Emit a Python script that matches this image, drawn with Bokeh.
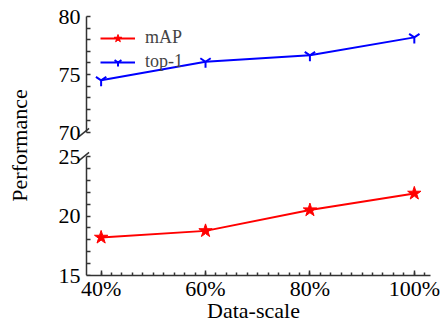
import math
from bokeh.plotting import figure
from bokeh.layouts import row, column
from bokeh.models import Range1d, FixedTicker, Legend, LegendItem, Label, LinearAxis
from bokeh.embed import file_html
from bokeh.resources import INLINE

# ---- data ----
scales = [40, 60, 80, 100]
scale_labels = ["40%", "60%", "80%", "100%"]
map_values = [18.2, 18.75, 20.5, 21.9]
top1_values = [74.5, 76.1, 76.65, 78.2]
x_minor = list(range(40, 104, 2))
upper_ticks = [70, 75, 80]
upper_minor = list(range(70, 81))
lower_ticks = [15, 20, 25]
lower_minor = list(range(15, 26))

FONT = "Liberation Serif"
AX = "#333333"
RED = "#ff0000"
BLUE = "#0000ff"

# x extent of the axes (data units) and pixel geometry
X0, X1 = 37.2, 103.1
AXIS_W = 344                      # px between y axis and right end of x axis
PXX = AXIS_W / (X1 - X0)
EXT = 10                          # extra frame room left of the y axis (for break marks)
XL = X0 - EXT / PXX
LEFT, RIGHT = 46, 12
W = LEFT + AXIS_W + EXT + RIGHT

PXY_T = 11.6                      # px per unit, upper panel
PXY_B = 11.9                      # px per unit, lower panel


def style_lines(ax, tin, tmin):
    ax.axis_line_color = AX
    ax.axis_line_width = 1.5
    ax.major_tick_line_color = AX
    ax.minor_tick_line_color = AX
    ax.major_tick_line_width = 1.5
    ax.minor_tick_line_width = 1.5
    ax.major_tick_in = tin
    ax.major_tick_out = 0
    ax.minor_tick_in = tmin
    ax.minor_tick_out = 0


def style_text(ax):
    ax.major_label_text_font = FONT
    ax.major_label_text_font_size = "22px"
    ax.major_label_text_color = "black"
    ax.axis_label_text_font = FONT
    ax.axis_label_text_font_size = "22px"
    ax.axis_label_text_font_style = "normal"
    ax.axis_label_text_color = "black"


def base(h, min_top, min_bottom, yr, xaxis):
    p = figure(width=W, height=h, min_border_left=LEFT, min_border_right=RIGHT,
               min_border_top=min_top, min_border_bottom=min_bottom,
               x_range=Range1d(XL, X1), y_range=Range1d(*yr),
               x_axis_location="below" if xaxis else None,
               output_backend="svg", toolbar_location=None)
    p.outline_line_color = None
    p.grid.visible = False
    p.background_fill_color = "white"
    p.border_fill_color = "white"
    return p


def y_axes(p, ticks, minor):
    # tick labels only, at the frame edge
    lab_ax = p.yaxis[0]
    lab_ax.ticker = FixedTicker(ticks=ticks, minor_ticks=[])
    lab_ax.axis_line_color = None
    lab_ax.major_tick_line_color = None
    lab_ax.minor_tick_line_color = None
    lab_ax.major_tick_out = 0
    lab_ax.major_tick_in = 0
    lab_ax.minor_tick_out = 0
    lab_ax.minor_tick_in = 0
    lab_ax.major_label_standoff = -4
    style_text(lab_ax)
    # axis line and ticks, placed at x = X0
    line_ax = LinearAxis(ticker=FixedTicker(ticks=[], minor_ticks=minor),
                         fixed_location=X0, bounds=(ticks[0], ticks[-1]))
    style_lines(line_ax, 4, 4)
    p.add_layout(line_ax, "left")


def break_mark(p, y):
    p.scatter([X0 - 2.5 / PXX], [y], marker="dash", size=13, angle=0.68,
              line_color=AX, line_width=1.5)


# ---- upper panel (top-1) ----
TOP_EXT = 13
top = base(144, 16 - TOP_EXT, 6,
           (upper_ticks[0] - 6 / PXY_T, upper_ticks[-1] + TOP_EXT / PXY_T), False)
y_axes(top, upper_ticks, upper_minor)

l_top = top.line(scales, top1_values, line_color=BLUE, line_width=2)
s_top = top.scatter(scales, top1_values, marker="y", size=12, line_color=BLUE, line_width=2)
# mAP repeated here only so the legend can show its glyph (values lie outside this panel's range)
l_map_leg = top.line(scales, map_values, line_color=RED, line_width=2)
s_map_leg = top.scatter(scales, map_values, marker="star", size=14, fill_color=RED, line_color=RED)
break_mark(top, upper_ticks[0])

leg = Legend(items=[LegendItem(label="mAP", renderers=[l_map_leg, s_map_leg]),
                    LegendItem(label="top-1", renderers=[l_top, s_top])],
             location="top_left", margin=24, padding=12, spacing=3,
             glyph_width=35, glyph_height=20, label_height=20, label_standoff=10,
             label_text_font=FONT, label_text_font_size="18px",
             border_line_color=None, background_fill_alpha=0)
top.add_layout(leg)

# ---- lower panel (mAP) ----
bot = base(181, 6, 50, (lower_ticks[0], lower_ticks[-1] + 6 / PXY_B), True)
y_axes(bot, lower_ticks, lower_minor)

xa = bot.xaxis[0]
xa.ticker = FixedTicker(ticks=scales, minor_ticks=x_minor)
style_lines(xa, 5, 3)
style_text(xa)
xa.bounds = (X0, X1)
xa.major_label_overrides = dict(zip(scales, scale_labels))
xa.major_label_standoff = 0
xa.axis_label = "Data-scale"
xa.axis_label_standoff = -6

bot.line(scales, map_values, line_color=RED, line_width=2)
bot.scatter(scales, map_values, marker="star", size=14, fill_color=RED, line_color=RED)
break_mark(bot, lower_ticks[-1])

# ---- shared y label ----
lab = figure(width=30, height=325, x_range=Range1d(0, 1), y_range=Range1d(0, 1),
             min_border=0, x_axis_location=None, y_axis_location=None,
             output_backend="svg", toolbar_location=None)
lab.outline_line_color = None
lab.grid.visible = False
lab.add_layout(Label(x=18.5 / 30, y=1 - 145 / 325, text="Performance", angle=math.pi / 2,
                     text_align="center", text_baseline="middle",
                     text_font=FONT, text_font_size="22px", text_color="black"))

layout = row(lab, column(top, bot))
open("out.html", "w").write(file_html(layout, INLINE))
